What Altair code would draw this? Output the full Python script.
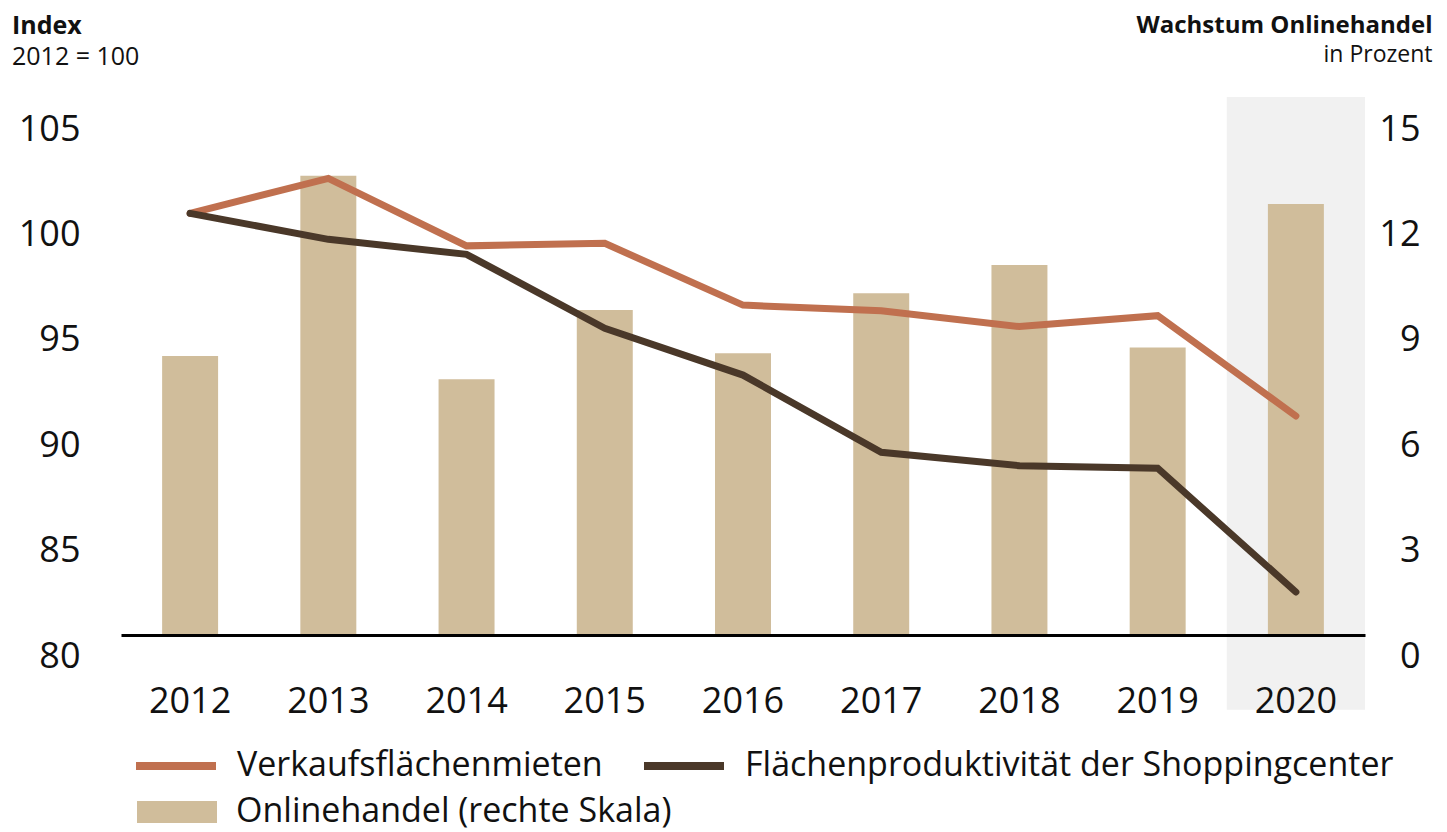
import altair as alt
import pandas as pd

# ---------------- data ----------------
years = ["2012", "2013", "2014", "2015", "2016", "2017", "2018", "2019", "2020"]
online_growth = [7.94, 13.07, 7.28, 9.25, 8.02, 9.73, 10.53, 8.18, 12.27]   # right scale, %
rents = [100.0, 101.66, 98.46, 98.58, 95.65, 95.38, 94.63, 95.15, 90.39]     # index 2012=100
productivity = [100.0, 98.77, 98.06, 94.55, 92.33, 88.67, 88.03, 87.91, 82.04]

series_names = ["Verkaufsflächenmieten", "Flächenproduktivität der Shoppingcenter"]
bar_name = "Onlinehandel (rechte Skala)"
left_ticks = [80, 85, 90, 95, 100, 105]
right_ticks = [0, 3, 6, 9, 12, 15]
highlight_year = ["2020"]
highlight_span = [-2.13, 15.31]   # shaded band extent, in right-scale units

# ---------------- style ----------------
FONT = "Open Sans"
ORANGE = "#c0704f"
DARK = "#4a3829"
BAR = "#d0bd9b"
SHADE = "#f1f1f1"
TEXT = "#111111"

bar_df = pd.DataFrame({"year": years, "online": online_growth, "series": [bar_name] * len(years)})
line_df = pd.DataFrame({
    "year": years * 2,
    "value": rents + productivity,
    "series": [series_names[0]] * len(years) + [series_names[1]] * len(years),
    "order": [0] * len(years) + [1] * len(years),
})
hl_df = pd.DataFrame({"year": highlight_year, "lo": [highlight_span[0]], "hi": [highlight_span[1]]})

x_axis = alt.Axis(
    title="in Prozent", titleFont=FONT, titleFontSize=23, titleFontWeight="normal", titleColor=TEXT,
    titleAngle=0, titleAlign="right", titleBaseline="alphabetic", titleX=1311, titleY=-574,
    labelAngle=0, labelFont=FONT, labelFontSize=36, labelColor=TEXT, labelPadding=49,
    domainColor="#000000", domainWidth=3, ticks=False, tickSize=0, grid=False, zindex=1,
)
x_enc = alt.X("year:O", scale=alt.Scale(paddingInner=0, paddingOuter=0), axis=x_axis)

right_scale = alt.Scale(domain=[0, 15], nice=False, zero=False)
right_axis = alt.Axis(
    orient="right", values=right_ticks, title="Wachstum Onlinehandel",
    titleFont=FONT, titleFontSize=24, titleFontWeight="bold", titleColor=TEXT,
    titleAngle=0, titleAlign="right", titleBaseline="alphabetic", titleX=67, titleY=-76,
    labelFont=FONT, labelFontSize=36, labelColor=TEXT, labelAlign="right", labelBaseline="top",
    labelPadding=55, labelOffset=4, ticks=False, tickSize=0, domain=False, grid=False,
)
left_axis = alt.Axis(
    orient="left", values=left_ticks, title=None,
    labelFont=FONT, labelFontSize=36, labelColor=TEXT, labelAlign="right", labelBaseline="top",
    labelPadding=41, labelOffset=4, ticks=False, tickSize=0, domain=False, grid=False,
)

shade = alt.Chart(hl_df).mark_rect(color=SHADE, clip=False).encode(
    x=x_enc,
    y=alt.Y("lo:Q", scale=right_scale, axis=right_axis),
    y2="hi:Q",
)

bars = alt.Chart(bar_df).mark_bar(width=alt.RelativeBandSize(0.405), clip=False).encode(
    x=x_enc,
    y=alt.Y("online:Q", scale=right_scale, axis=right_axis),
    fill=alt.Fill(
        "series:N",
        scale=alt.Scale(domain=[bar_name], range=[BAR]),
        legend=alt.Legend(
            orient="none", legendX=16, legendY=664, title=None, padding=0,
            symbolType="M-1,-0.275H1V0.275H-1Z", symbolSize=6400, symbolStrokeWidth=0,
            labelFont=FONT, labelFontSize=34, labelColor=TEXT, labelLimit=1000, labelOffset=19,
        ),
    ),
)

lines = alt.Chart(line_df).mark_line(strokeWidth=7, strokeCap="round").encode(
    x=x_enc,
    y=alt.Y("value:Q", scale=alt.Scale(domain=[80, 105], nice=False, zero=False), axis=left_axis),
    stroke=alt.Stroke(
        "series:N",
        scale=alt.Scale(domain=series_names, range=[ORANGE, DARK]),
        legend=alt.Legend(
            orient="none", legendX=11, legendY=614, title=None, padding=0,
            direction="horizontal", columns=2, columnPadding=25,
            symbolType="stroke", symbolSize=6400, symbolStrokeWidth=8,
            labelFont=FONT, labelFontSize=34, labelColor=TEXT, labelLimit=1000, labelOffset=17,
        ),
    ),
    order="order:Q",
)

chart = alt.layer(alt.layer(shade, bars), lines).resolve_scale(y="independent").properties(
    width=1244,
    height=527,
    autosize=alt.AutoSizeParams(type="none"),
    padding={"left": 113, "top": 100, "right": 74, "bottom": 200},
    background="white",
    title=alt.TitleParams(
        "Index", subtitle="2012 = 100", anchor="start", frame="group", dx=-109, offset=-57,
        font=FONT, fontSize=25, fontWeight="bold", color=TEXT,
        subtitleFont=FONT, subtitleFontSize=25, subtitleColor=TEXT, subtitlePadding=6,
    ),
).configure_view(stroke=None)

chart.save("out.html", embed_options={"renderer": "svg", "actions": False})
